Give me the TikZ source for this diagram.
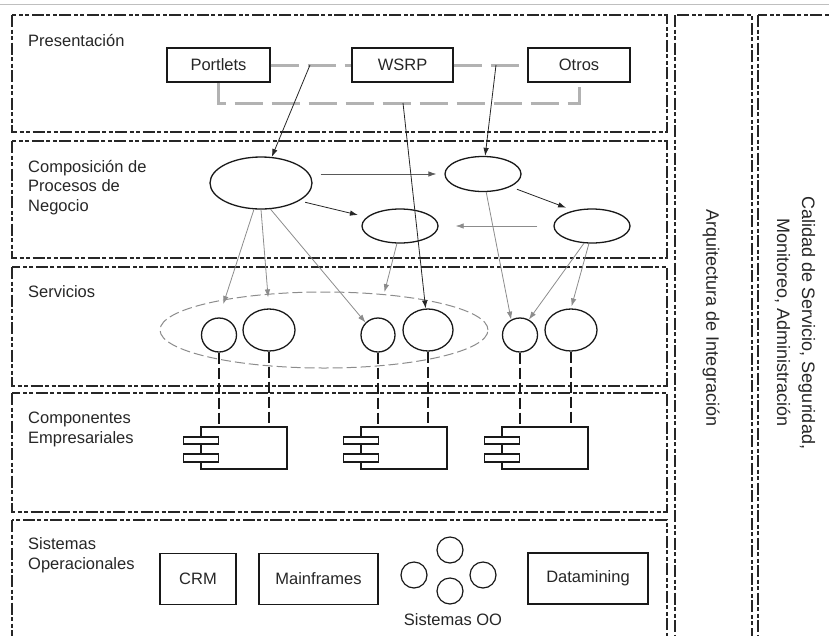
\documentclass[tikz,border=0pt]{standalone}
\usepackage{fontspec}
\setmainfont{Liberation Sans}
\usetikzlibrary{shapes.geometric,arrows.meta,calc}

\tikzset{
  layer/.style={draw=black!85, line width=1.3pt,
    dash pattern=on 12pt off 2.5pt on 4pt off 2.5pt on 4pt off 2.5pt},
  txt/.style={font=\fontsize{16.5}{19.5}\selectfont, text=black!85},
  lbl/.style={txt, anchor=base west, inner sep=0pt, align=left},
  box/.style={txt, draw=black!90, line width=1.2pt, inner sep=0pt},
  oval/.style={ellipse, draw=black!90, line width=1.3pt, inner sep=0pt},
  grayline/.style={draw=black!30, line width=3pt, dash pattern=on 28pt off 9pt},
  arr/.style={-{Latex[length=8pt,width=5.5pt]}, line width=0.8pt, draw=black!85},
  garr/.style={arr, draw=black!45},
  dline/.style={draw=black!90, line width=1.3pt, dash pattern=on 11pt off 4pt},
  comp/.style={draw=black!90, line width=1.2pt, inner sep=0pt,
    minimum width=86pt, minimum height=42pt},
  osys/.style={circle, draw=black!90, line width=1.2pt, inner sep=0pt, minimum size=26pt}
}

\begin{document}
\begin{tikzpicture}[x=1pt, y=-1pt]
\useasboundingbox (0,0) rectangle (829,635);

% window edge at the top
\draw[black!25, line width=1pt] (0,4) -- (829,4);

% ---------- layers ----------
\draw[layer] (12,15) rectangle (667,132);
\draw[layer] (12,141) rectangle (667,258);
\draw[layer] (12,267) rectangle (667,386);
\draw[layer] (12,393) rectangle (667,512);
\draw[layer] (12,520) rectangle (667,660);
\draw[layer] (675,15) rectangle (752,660);
\draw[layer] (758,15) rectangle (860,660);

% multi-line labels sit on the baseline of their last line
\node[lbl] (lpres) at (28,46) {Presentación};
\node[lbl] (lcomp) at (28,211) {Composición de\\Procesos de\\Negocio};
\node[lbl] (lserv) at (28,297) {Servicios};
\node[lbl] (lcomps) at (28,443) {Componentes\\Empresariales};
\node[lbl] (lsys) at (28,569) {Sistemas\\Operacionales};

\node[txt, rotate=-90, font=\fontsize{18}{25}\selectfont, inner sep=0pt]
  (integ) at (711,318) {Arquitectura de Integración};
\node[txt, rotate=-90, font=\fontsize{18}{25}\selectfont, align=center, inner sep=0pt]
  (qos) at (795,323) {Calidad de Servicio, Seguridad,\\Monitoreo, Administración};

% ---------- presentation ----------
\node[box, minimum width=103pt, minimum height=34pt] (portlets) at (218.5,65) {Portlets};
\node[box, minimum width=101pt, minimum height=34pt] (wsrp) at (402.5,65) {WSRP};
\node[box, minimum width=102pt, minimum height=34pt] (otros) at (579,65) {Otros};

\draw[grayline] (portlets.east) -- (wsrp.west);
\draw[grayline] (wsrp.east) -- (otros.west);
\draw[grayline] (portlets.south) -- ++(0,21) -| (otros.south);

\coordinate (tapP) at (310,65);
\coordinate (tapO) at (496,65);
\coordinate (tapW) at (403,103);

% ---------- business process composition ----------
\node[oval, minimum width=102pt, minimum height=52pt] (e1) at (261,183) {};
\node[oval, minimum width=76pt, minimum height=35pt] (e2) at (483,174) {};
\node[oval, minimum width=76pt, minimum height=34pt] (e3) at (400,226) {};
\node[oval, minimum width=76pt, minimum height=34pt] (e4) at (592,226) {};

\draw[arr] (tapP) -- (e1);
\draw[arr] (tapO) -- (e2);

\draw[arr, draw=black!65, shorten <=8pt, shorten >=8pt] (e1.east |- e2.west) -- (e2.west);
\draw[arr, shorten <=6pt, shorten >=9pt] (e1.-25) -- (e3.165);
\draw[arr, shorten <=7pt, shorten >=8pt] (e2.-25) -- (e4.140);
\draw[garr, shorten <=16pt, shorten >=17pt] (e4.west) -- (e3.east);

% ---------- services ----------
\node[ellipse, draw=black!45, line width=1pt, dash pattern=on 10pt off 4pt,
      minimum width=328pt, minimum height=76pt, inner sep=0pt] (svc) at (324,330) {};

\node[oval, minimum width=35pt, minimum height=34pt] (c1) at (219,335) {};
\node[oval, minimum width=52pt, minimum height=42pt] (c2) at (269,330) {};
\node[oval, minimum width=34pt, minimum height=34pt] (c3) at (378,335) {};
\node[oval, minimum width=50pt, minimum height=42pt] (c4) at (428,330) {};
\node[oval, minimum width=35pt, minimum height=34pt] (c5) at (520,335) {};
\node[oval, minimum width=52pt, minimum height=42pt] (c6) at (571,330) {};

\draw[arr] (tapW) -- (c4);

\draw[garr, shorten >=14pt] (e1.-105) -- (c1.north);
\draw[garr, shorten >=11pt] (e1.south) -- (c2.north);
\draw[garr] (e1.-70) -- (c3.135);
\draw[garr, shorten >=26pt] (e3.-100) -- (c3.north);
\draw[garr] (e2.-80) -- (c5.120);
\draw[garr] (e4.-115) -- (c5.60);
\draw[garr, shorten >=2pt] (e4.-100) -- (c6.north);

% ---------- enterprise components ----------
\node[comp] (k1) at (244,448) {};
\node[comp] (k2) at (404,448) {};
\node[comp] (k3) at (545,448) {};
\foreach \k in {k1,k2,k3} {
  \draw[draw=black!90, line width=1.2pt, fill=white]
    ($(\k.west)+(-17,-11)$) rectangle ($(\k.west)+(18,-4)$);
  \draw[draw=black!90, line width=1.2pt, fill=white]
    ($(\k.west)+(-17,6)$) rectangle ($(\k.west)+(18,14)$);
}

\draw[dline] (c1.south) -- (c1.south |- k1.north);
\draw[dline] (c2.south) -- (c2.south |- k1.north);
\draw[dline] (c3.south) -- (c3.south |- k2.north);
\draw[dline] (c4.south) -- (c4.south |- k2.north);
\draw[dline] (c5.south) -- (c5.south |- k3.north);
\draw[dline] (c6.south) -- (c6.south |- k3.north);

% ---------- operational systems ----------
\node[box, minimum width=76pt, minimum height=51pt] (crm) at (198,579) {CRM};
\node[box, minimum width=119pt, minimum height=51pt] (mainf) at (318.5,579) {Mainframes};
\node[box, minimum width=120pt, minimum height=51pt] (datam) at (588,578.5) {Datamining};

\node[osys] (o1) at (450,550) {};
\node[osys] (o2) at (414,575) {};
\node[osys] (o3) at (450,591) {};
\node[osys] (o4) at (483,575) {};
\node[txt, anchor=base, inner sep=0pt] (oo) at (453,625) {Sistemas OO};

\end{tikzpicture}
\end{document}
